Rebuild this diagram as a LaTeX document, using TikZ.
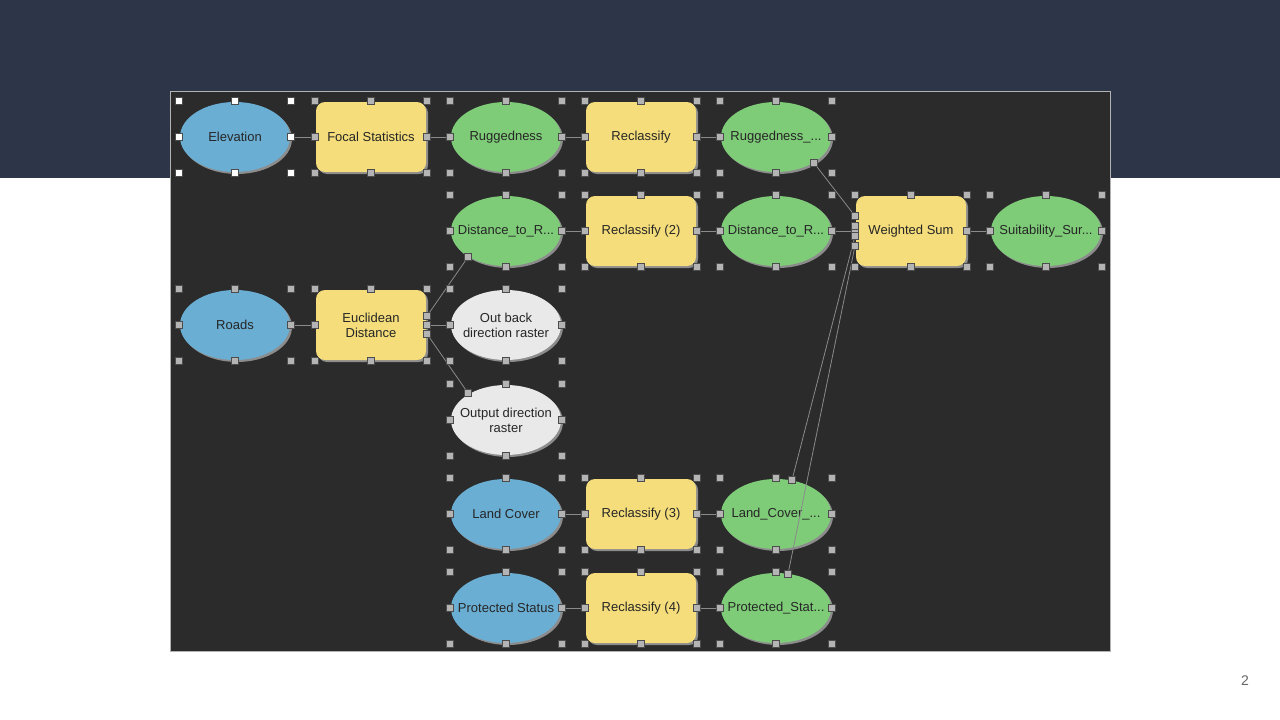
\documentclass[tikz,border=0pt]{standalone}
\usepackage{fontspec}
\setmainfont{Liberation Sans}
\usetikzlibrary{shapes.geometric,shadows,calc,arrows.meta}
\definecolor{band}{HTML}{2D3548}
\definecolor{panel}{HTML}{2B2B2B}
\definecolor{cblue}{HTML}{6AAED3}
\definecolor{cyel}{HTML}{F4DD7A}
\definecolor{cgreen}{HTML}{7ECC78}
\definecolor{cwhite}{HTML}{E9E9E9}
\definecolor{hcol}{HTML}{B4B4B4}
\definecolor{lcol}{HTML}{8A8A8A}
\newcommand\zb[1]{\makebox[0pt]{#1}}
\begin{document}
\begin{tikzpicture}[x=1pt,y=-1pt,
  base/.style={inner sep=0pt,align=center,text=black!85,font=\fontsize{13}{15}\selectfont,
     minimum width=110pt,minimum height=70pt,
     drop shadow={shadow xshift=2pt,shadow yshift=-2pt,fill=black!45,opacity=1}},
  ell/.style={base,ellipse},
  box/.style={base,rectangle,rounded corners=9pt,fill=cyel},
  conn/.style={draw=lcol,line width=0.8pt,-{Stealth[length=4pt,width=4pt]}},
  hnd/.style={fill=hcol,draw=black!70,line width=0.4pt}]
\useasboundingbox (0,0) rectangle (1280,720);
\fill[white] (0,0) rectangle (1280,720);
\fill[band] (0,0) rectangle (1280,178);
\fill[panel] (170,91) rectangle (1110,651);
\draw[black!30,line width=1pt] (170,91) rectangle (1110,651);
\node[font=\fontsize{14}{16}\selectfont,text=black!60] (pg) at (1245,681) {2};

\newcommand\handles[2][hnd]{\foreach \dx/\dy in {-56/-36,0/-36,56/-36,56/0,56/36,0/36,-56/36,-56/0}
  {\path[#1] ($(#2)+(\dx,\dy)+(-3.5,-3.5)$) rectangle ++(7,7);}}

% row 1
\node[ell,fill=cblue] (elev) at (235,137) {Elevation};
\node[box] (focal) at (371,137) {Focal Statistics};
\node[ell,fill=cgreen] (rug) at (506,137) {Ruggedness};
\node[box] (rec1) at (641,137) {Reclassify};
\node[ell,fill=cgreen] (rugo) at (776,137) {\zb{Ruggedness\_...}};
% row 2
\node[ell,fill=cgreen] (dist) at (506,231) {\zb{Distance\_to\_R...}};
\node[box] (rec2) at (641,231) {Reclassify (2)};
\node[ell,fill=cgreen] (disto) at (776,231) {\zb{Distance\_to\_R...}};
\node[box] (ws) at (911,231) {Weighted Sum};
\node[ell,fill=cgreen] (suit) at (1046,231) {\zb{Suitability\_Sur...}};
% row 3
\node[ell,fill=cblue] (roads) at (235,325) {Roads};
\node[box] (eucl) at (371,325) {Euclidean\\Distance};
\node[ell,fill=cwhite] (outb) at (506,325) {\zb{Out back}\\\zb{direction raster}};
% row 4
\node[ell,fill=cwhite] (outd) at (506,420) {\zb{Output direction}\\\zb{raster}};
% row 5
\node[ell,fill=cblue] (land) at (506,514) {\zb{Land Cover}};
\node[box] (rec3) at (641,514) {Reclassify (3)};
\node[ell,fill=cgreen] (lando) at (776,514) {\zb{Land\_Cover\_...}};
% row 6
\node[ell,fill=cblue] (prot) at (506,608) {\zb{Protected Status}};
\node[box] (rec4) at (641,608) {Reclassify (4)};
\node[ell,fill=cgreen] (proto) at (776,608) {\zb{Protected\_Stat...}};

% ports
\coordinate (e1) at ($(eucl)+(56,-9)$);
\coordinate (e2) at ($(eucl)+(56,0)$);
\coordinate (e3) at ($(eucl)+(56,9)$);
\coordinate (w1) at ($(ws)+(-56,-15)$);
\coordinate (w2) at ($(ws)+(-56,-5)$);
\coordinate (w3) at ($(ws)+(-56,5)$);
\coordinate (w4) at ($(ws)+(-56,15)$);
\coordinate (dsw) at ($(dist)+(-38,26)$);
\coordinate (onw) at ($(outd)+(-38,-27)$);
\coordinate (rse) at ($(rugo)+(38,26)$);
\coordinate (lnt) at ($(lando)+(16,-34)$);
\coordinate (pnt) at ($(proto)+(12,-34)$);

% connectors
\foreach \a/\b in {elev/focal,focal/rug,rug/rec1,rec1/rugo,dist/rec2,rec2/disto,disto/ws,ws/suit,roads/eucl,land/rec3,rec3/lando,prot/rec4,rec4/proto}
  \draw[conn] ($(\a.center)+(56,0)$) -- ($(\b.center)+(-56,0)$);
\draw[conn] (e1) -- (dsw);
\draw[conn] (e2) -- ($(outb.center)+(-56,0)$);
\draw[conn] (e3) -- (onw);
\draw[conn] (rse) -- (w1);
\draw[conn] (lnt) -- (w3);
\draw[conn] (pnt) -- (w4);

% handles
\handles[fill=white,draw=black!70,line width=0.4pt]{elev}
\foreach \n in {focal,rug,rec1,rugo,dist,rec2,disto,ws,suit,roads,eucl,outb,outd,land,rec3,lando,prot,rec4,proto}
  {\handles{\n}}
\foreach \c in {e1,e2,e3,w1,w2,w3,w4,dsw,onw,rse,lnt,pnt}
  {\path[hnd] ($(\c)+(-3.5,-3.5)$) rectangle ++(7,7);}
\end{tikzpicture}
\end{document}
